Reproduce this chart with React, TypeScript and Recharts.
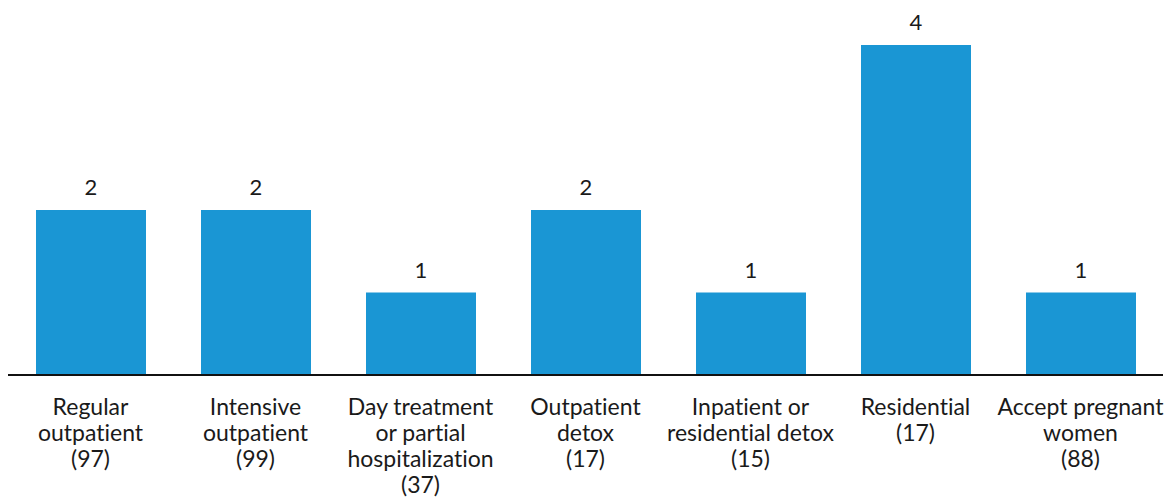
import { Bar, BarChart, LabelList, XAxis, YAxis } from "recharts";

// service categories, each split into the lines shown under the axis
const categoryLines: string[][] = [
  ["Regular", "outpatient", "(97)"],
  ["Intensive", "outpatient", "(99)"],
  ["Day treatment", "or partial", "hospitalization", "(37)"],
  ["Outpatient", "detox", "(17)"],
  ["Inpatient or", "residential detox", "(15)"],
  ["Residential", "(17)"],
  ["Accept pregnant", "women", "(88)"],
];
const counts = [2, 2, 1, 2, 1, 4, 1];

const data = categoryLines.map((lines, i) => ({
  name: lines.join(" "),
  lines,
  value: counts[i],
}));

const FONT = "Lato, 'Noto Sans', sans-serif";

function CategoryTick(props: any) {
  const { x, y, payload, index } = props;
  const lines = categoryLines[index] ?? [String(payload.value)];
  return (
    <text
      x={x}
      y={y}
      textAnchor="middle"
      fontFamily={FONT}
      fontSize={23}
      fill="#1a1a1a"
      style={{ fontVariantLigatures: "none" }}
    >
      {lines.map((line, i) => (
        <tspan key={i} x={x} dy={i === 0 ? 32 : 26}>
          {line}
        </tspan>
      ))}
    </text>
  );
}

export default function App() {
  return (
    <div style={{ position: "absolute", left: 0, top: 0, width: 1167, height: 498 }}>
      <BarChart
        width={1167}
        height={498}
        data={data}
        margin={{ top: 45, right: 4, bottom: 0, left: 8 }}
      >
        <XAxis
          dataKey="name"
          height={123}
          interval={0}
          tickLine={false}
          axisLine={{ stroke: "#111", strokeWidth: 2 }}
          tick={<CategoryTick />}
        />
        <YAxis hide domain={[0, 4]} />
        <Bar dataKey="value" fill="#1a96d4" barSize={110} isAnimationActive={false}>
          <LabelList
            dataKey="value"
            position="top"
            offset={15}
            fontFamily={FONT}
            fontSize={22}
            fill="#1a1a1a"
          />
        </Bar>
      </BarChart>
    </div>
  );
}
